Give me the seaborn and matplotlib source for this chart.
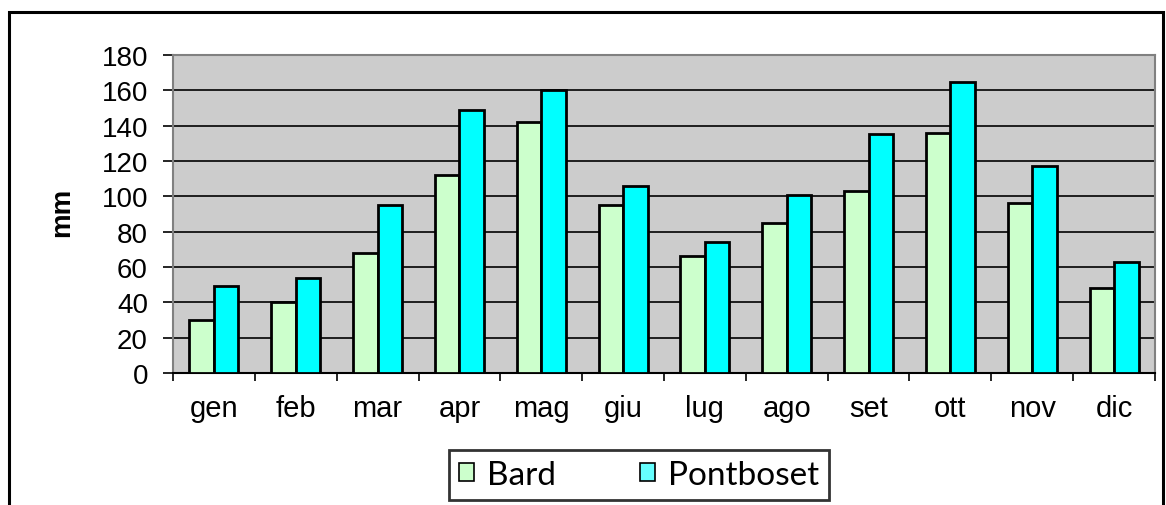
import matplotlib
matplotlib.use("Agg")
import matplotlib.pyplot as plt
import matplotlib.patches as mpatches
from matplotlib.ticker import FixedLocator, MultipleLocator
import seaborn as sns
import pandas as pd
import numpy as np


MESI = ["gen", "feb", "mar", "apr", "mag", "giu", "lug", "ago", "set", "ott", "nov", "dic"]
BARD = [30, 40, 68, 112, 142, 95, 66, 85, 103, 136, 96, 48]
PONTBOSET = [49, 54, 95, 149, 160, 106, 74, 101, 135, 165, 117, 63]
STAZIONI = ["Bard", "Pontboset"]
COLORI = ["#CCFFCC", "#00FFFF"]

W, H = 1166, 506


def main():
    sns.set_style("white")
    plt.rcParams["font.family"] = ["Liberation Sans", "DejaVu Sans"]
    plt.rcParams["text.color"] = "black"
    plt.rcParams["xtick.labelcolor"] = "black"
    plt.rcParams["ytick.labelcolor"] = "black"

    df = pd.DataFrame({
        "mese": MESI * 2,
        "mm": BARD + PONTBOSET,
        "stazione": [STAZIONI[0]] * len(MESI) + [STAZIONI[1]] * len(MESI),
    })

    fig = plt.figure(figsize=(W / 100, H / 100), dpi=100)
    ax = fig.add_axes([173 / W, (H - 374) / H, 982 / W, 318 / H])
    ax.set_facecolor("#CCCCCC")

    sns.barplot(data=df, x="mese", y="mm", hue="stazione", order=MESI,
                palette=COLORI, saturation=1, edgecolor="black", linewidth=2,
                width=0.6, ax=ax, legend=False, zorder=3)

    ax.set_ylim(0, 180)
    ax.set_xlim(-0.5, len(MESI) - 0.5)
    ax.yaxis.set_major_locator(MultipleLocator(20))
    ax.grid(axis="y", color="black", linewidth=1.2, zorder=1)
    ax.set_axisbelow(True)

    # tick marks between months, labels centred on them
    ax.xaxis.set_minor_locator(FixedLocator(np.arange(-0.5, len(MESI), 1)))
    ax.tick_params(axis="x", which="major", length=0, pad=15, labelsize=21,
                   labelcolor="black")
    ax.tick_params(axis="x", which="minor", length=6, width=1.2, color="black",
                   direction="out", bottom=True)
    ax.tick_params(axis="y", which="major", length=7, width=1.2, color="black",
                   direction="out", left=True, pad=11, labelsize=20,
                   labelcolor="black")

    for side in ["top", "right", "left"]:
        ax.spines[side].set_color("#808080")
        ax.spines[side].set_linewidth(1.5)
    ax.spines["bottom"].set_color("black")
    ax.spines["bottom"].set_linewidth(1.5)

    ax.set_xlabel("")
    ax.set_ylabel("")
    fig.text(62 / W, (H - 212) / H, "mm", rotation=90, fontsize=20,
             fontweight="bold", ha="center", va="center", color="black")

    # outer chart border
    fig.add_artist(mpatches.Rectangle((9 / W, -0.1), (1163 - 9) / W, 1.1 - 13 / H,
                                      transform=fig.transFigure, fill=False,
                                      edgecolor="black", linewidth=2.2, clip_on=False))

    handles = [mpatches.Patch(facecolor=c, edgecolor="black", linewidth=1.2, label=s)
               for c, s in zip(["#CCFFCC", "#66FFFF"], STAZIONI)]
    leg = fig.legend(handles=handles, loc="center", ncol=2,
                     bbox_to_anchor=(639 / W, 30 / H),
                     prop={"family": ["Lato", "DejaVu Sans"], "size": 24},
                     frameon=True, fancybox=False, edgecolor="black",
                     handlelength=0.45, handleheight=0.45, handletextpad=0.4,
                     columnspacing=2.5, borderpad=0.3, borderaxespad=0)
    leg.get_frame().set_linewidth(2)
    for t in leg.get_texts():
        t.set_color("black")

    fig.savefig("out.png", dpi=100)
    plt.close(fig)


if __name__ == "__main__":
    main()
